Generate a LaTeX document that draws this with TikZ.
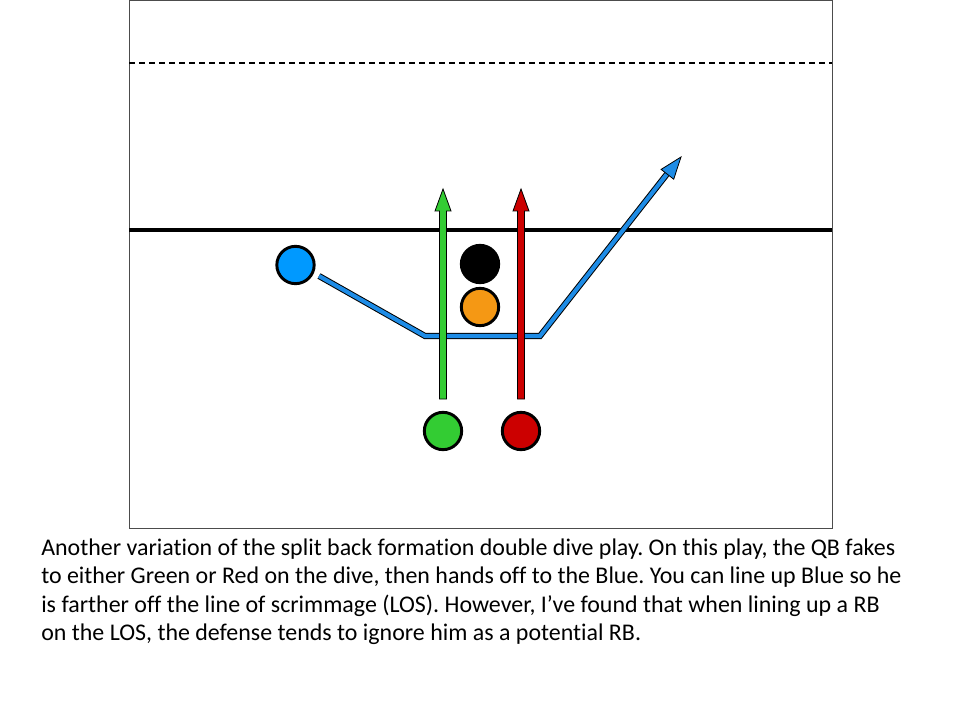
\documentclass[tikz,border=0pt]{standalone}
\usepackage{fontspec}
\setmainfont{Carlito}[Ligatures=NoCommon]
\frenchspacing
\begin{document}
\begin{tikzpicture}[x=0.75pt,y=-0.75pt,
  player/.style={circle,draw=black,line width=2.2pt,minimum size=28pt,inner sep=0pt},
  outl/.style={draw=black,line width=0.6pt,line join=miter},
  captxt/.style={anchor=base west,inner sep=0pt,font=\fontsize{17.95pt}{21pt}\selectfont}]
\definecolor{cblue}{RGB}{0,153,255}
\definecolor{pblue}{RGB}{30,140,230}
\definecolor{cgreen}{RGB}{51,204,51}
\definecolor{cred}{RGB}{204,0,0}
\definecolor{corange}{RGB}{245,152,20}
\useasboundingbox (0,0) rectangle (960,720);
% field
\draw[line width=0.6pt,draw=black!70] (129,0) rectangle (832,528);
\draw[dashed,line width=1pt,dash pattern=on 4.5pt off 3pt] (129,63) -- (832,63);
\draw[line width=2.4pt] (129,230) -- (832,230);
% players
\node[player,fill=cblue] (blue) at (295.5,265) {};
\node[player,fill=black] (qb) at (480,264) {};
\node[player,fill=corange] (ctr) at (480,307) {};
\node[player,fill=cgreen] (green) at (443,431) {};
\node[player,fill=cred] (red) at (521,431) {};
% blue route
\coordinate (b0) at (319,276);
\coordinate (b1) at (425,336);
\coordinate (b2) at (540,336);
\coordinate (b3) at (667,174);
\draw[black,line width=4.6pt,line join=miter] (b0) -- (b1) -- (b2) -- (b3);
\draw[pblue,line width=3.1pt,line join=miter] (b0) -- (b1) -- (b2) -- (b3);
\filldraw[outl,fill=pblue] (673.7,179.2) -- (681,157) -- (661.1,169.4) -- cycle;
% green route
\filldraw[outl,fill=cgreen] (439.5,399) -- (439.5,211) -- (435,211) -- (443,189) -- (451,211) -- (446.5,211) -- (446.5,399) -- cycle;
% red route
\filldraw[outl,fill=cred] (517.5,399) -- (517.5,211) -- (513,211) -- (521,189) -- (529,211) -- (524.5,211) -- (524.5,399) -- cycle;
% caption
\node[captxt] (l1) at (41,555) {Another variation of the split back formation double dive play. On this play, the QB fakes};
\node[captxt] (l2) at (41,583.5) {to either Green or Red on the dive, then hands off to the Blue. You can line up Blue so he};
\node[captxt] (l3) at (41,612) {is farther off the line of scrimmage (LOS). However, I’ve found that when lining up a RB};
\node[captxt] (l4) at (41,640.5) {on the LOS, the defense tends to ignore him as a potential RB.};
\end{tikzpicture}
\end{document}
